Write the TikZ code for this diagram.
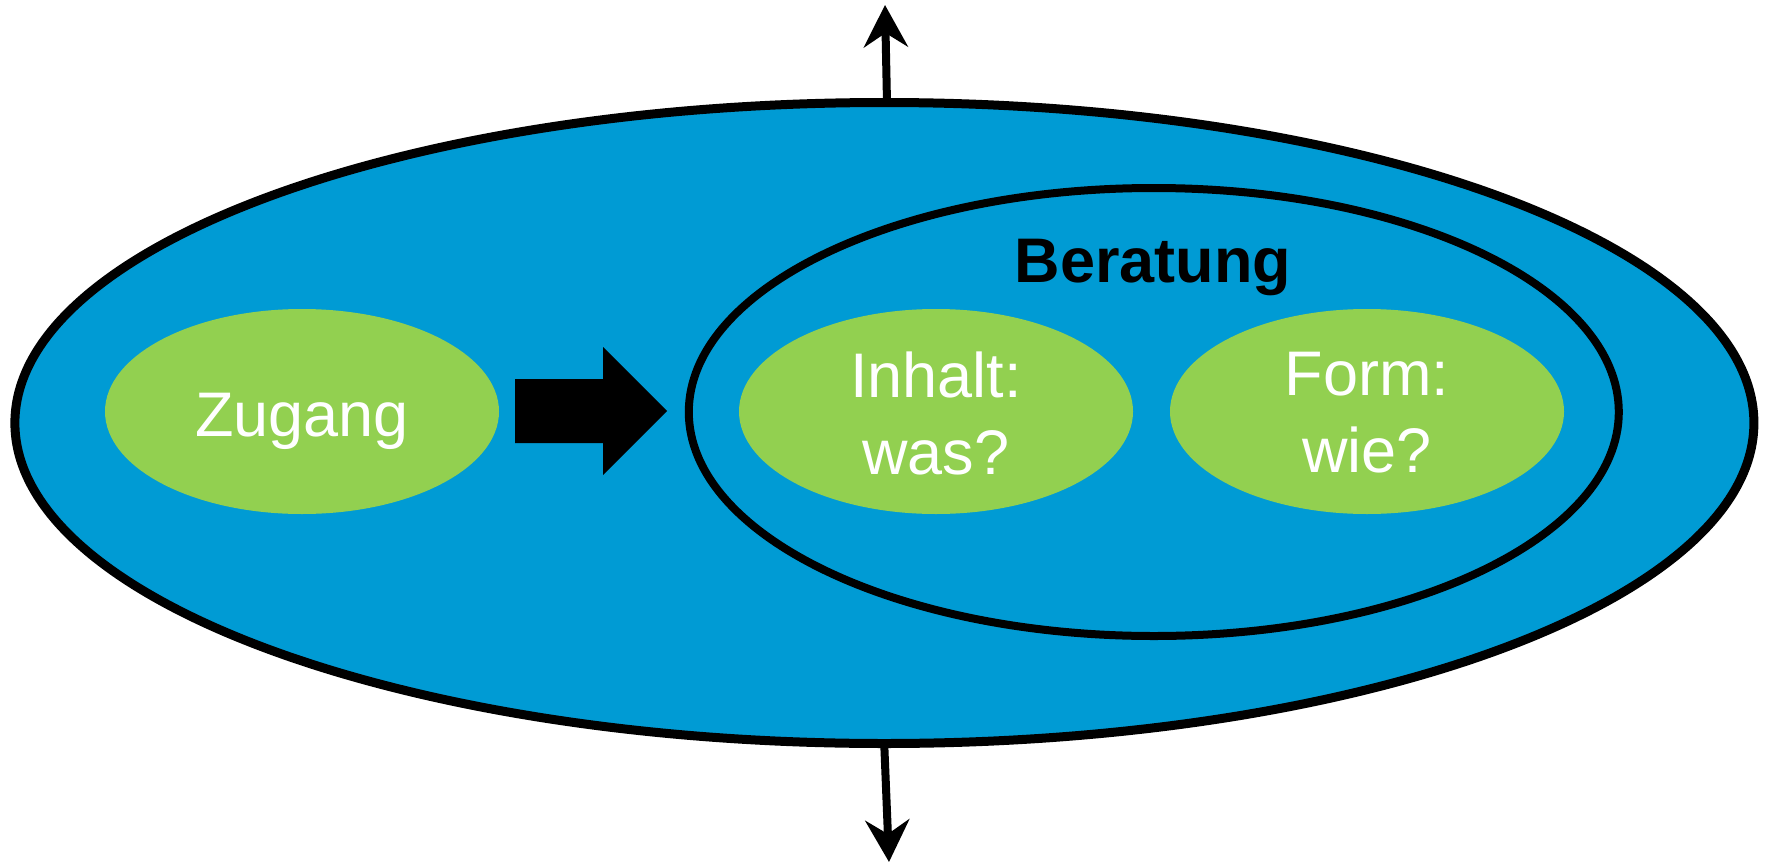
\documentclass[tikz,border=0pt]{standalone}
\usepackage{fontspec}
\setmainfont{Liberation Sans}
\usetikzlibrary{shapes.geometric,arrows.meta}
\definecolor{bblue}{RGB}{0,155,212}
\definecolor{lgreen}{RGB}{146,208,80}
\begin{document}
\begin{tikzpicture}[x=1pt,y=-1pt,
 outerell/.style={ellipse, draw=black, line width=9pt, fill=bblue, inner sep=0pt},
 innerell/.style={ellipse, draw=black, line width=8pt, inner sep=0pt},
 greenell/.style={ellipse, fill=lgreen, inner sep=0pt, minimum width=394pt, minimum height=205pt},
 lbl/.style={text=white, font=\fontsize{63}{77}\selectfont, align=center, inner sep=0pt},
 vec/.style={line width=8pt, -{Stealth[length=42pt,width=44pt,inset=14pt]}}]
\useasboundingbox (0,0) rectangle (1766,862);
\node[outerell, minimum width=1739pt, minimum height=641pt] (outer) at (884.4,423) {};
\node[innerell, minimum width=930pt, minimum height=448pt] (inner) at (1153.8,412) {};
\node[greenell] (zug) at (302,411.5) {};
\node[greenell] (inh) at (936,411.5) {};
\node[greenell] (form) at (1367,411.5) {};
\node[lbl, anchor=base] (zugt) at (302,436) {Zugang};
\node[lbl] (inht) at (936,413) {Inhalt:\\was?};
\node[lbl] (formt) at (1367,413) {Form:\\wie?};
\node[font=\bfseries\fontsize{63}{77}\selectfont, anchor=base, inner sep=0pt] (ber) at (1153,282) {Beratung};
\fill[black] (515,379) -- (603,379) -- (603,347) -- (667,411) -- (603,475) -- (603,443) -- (515,443) -- cycle;
\coordinate (toptip) at (885,5);
\coordinate (bottip) at (889,862);
\draw[vec] ([xshift=2.5pt]outer.north) -- (toptip);
\draw[vec] (outer.south) -- (bottip);
\end{tikzpicture}
\end{document}
